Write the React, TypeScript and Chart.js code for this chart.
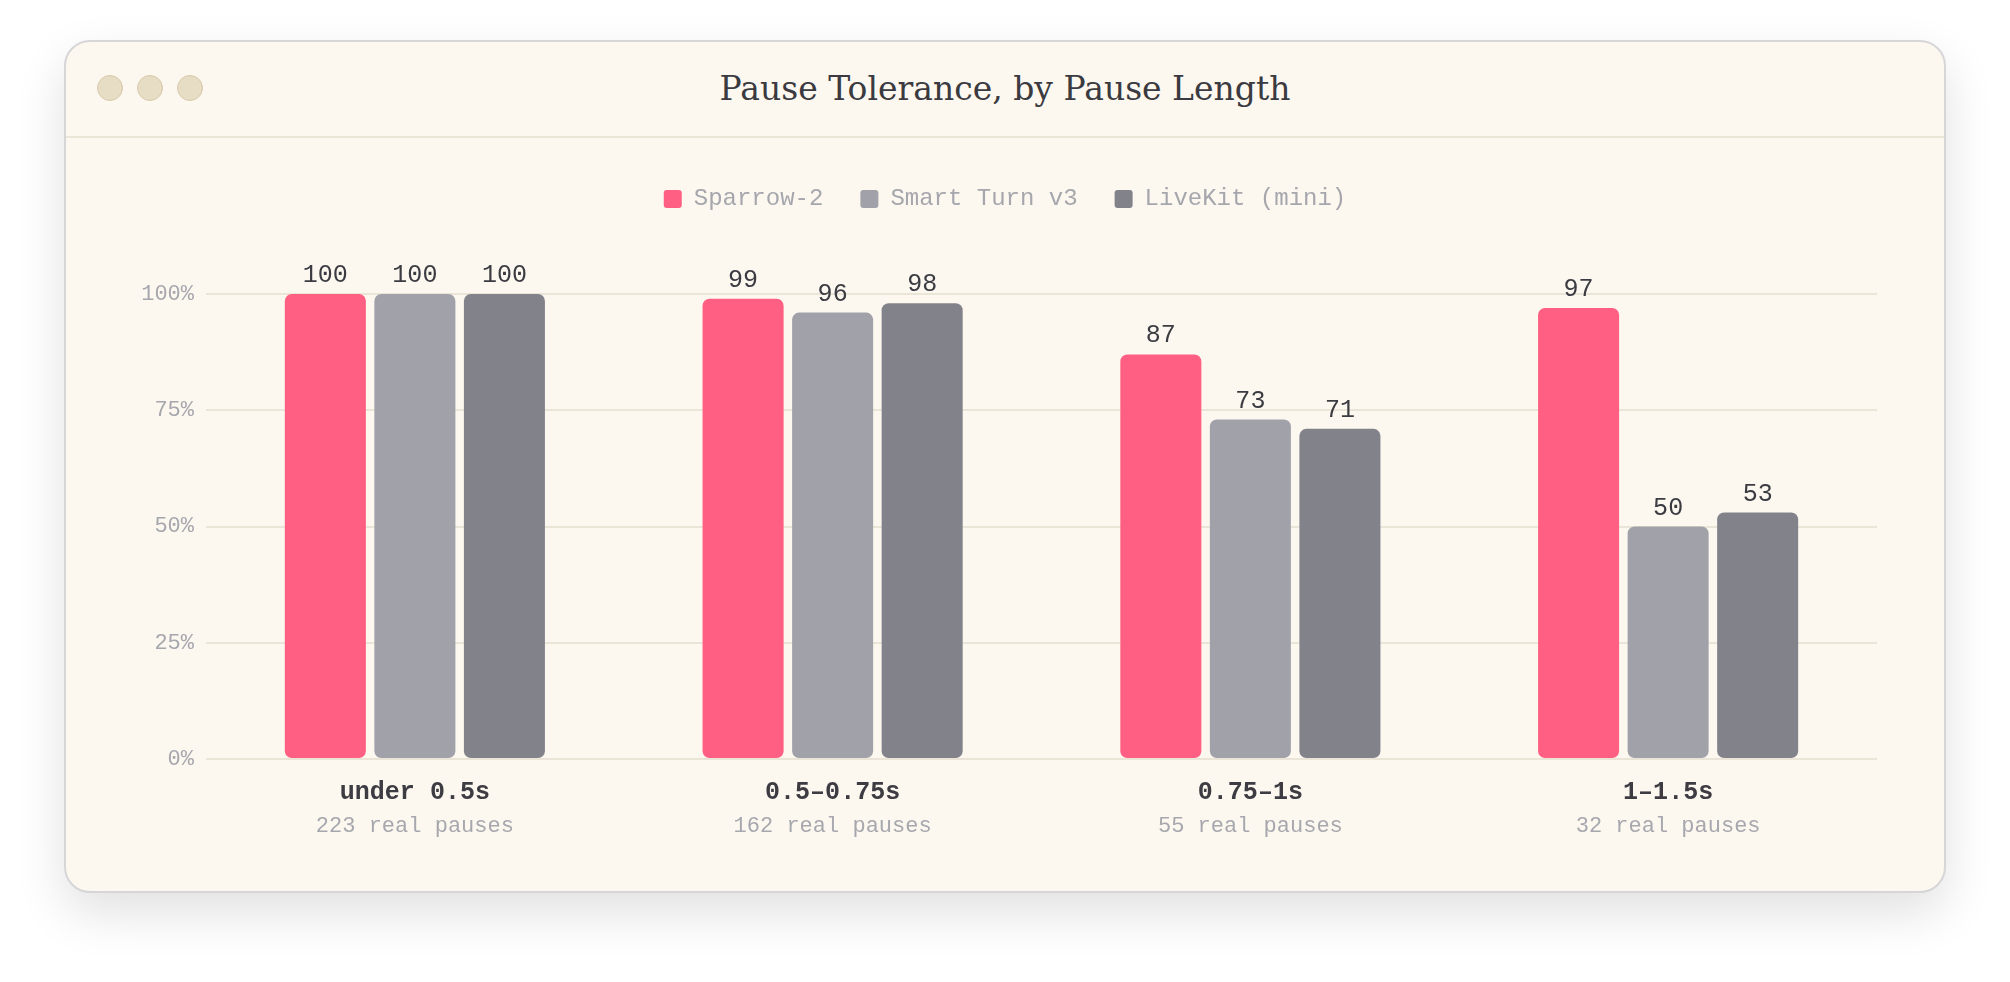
import { useEffect, useRef } from "react";
import { Chart, registerables } from "chart.js";

Chart.register(...registerables);

// data
const pauseBuckets = ["under 0.5s", "0.5–0.75s", "0.75–1s", "1–1.5s"];
const pauseCounts = ["223 real pauses", "162 real pauses", "55 real pauses", "32 real pauses"];
const sparrowValues = [100, 99, 87, 97];
const smartTurnValues = [100, 96, 73, 50];
const liveKitValues = [100, 98, 71, 53];
const yTicks = [0, 25, 50, 75, 100];

const MONO = "'Liberation Mono', 'DejaVu Sans Mono', monospace";

// draws the number above each bar
const barValueLabels = {
    id: "barValueLabels",
    afterDatasetsDraw(chart: Chart) {
        const ctx = chart.ctx;
        ctx.save();
        ctx.font = `25px ${MONO}`;
        ctx.fillStyle = "#3b3b42";
        ctx.textAlign = "center";
        ctx.textBaseline = "alphabetic";
        chart.data.datasets.forEach((ds, di) => {
            const meta = chart.getDatasetMeta(di);
            meta.data.forEach((bar: any, i) => {
                ctx.fillText(String(ds.data[i]), bar.x, bar.y - 12);
            });
        });
        ctx.restore();
    },
};

// two-line category labels under the axis, second line lighter
const categoryLabels = {
    id: "categoryLabels",
    afterDraw(chart: Chart) {
        const ctx = chart.ctx;
        const x = chart.scales.x;
        const bottom = chart.chartArea.bottom;
        ctx.save();
        ctx.textAlign = "center";
        ctx.textBaseline = "middle";
        pauseBuckets.forEach((label, i) => {
            const px = x.getPixelForValue(i);
            ctx.font = `bold 25px ${MONO}`;
            ctx.fillStyle = "#3c3c42";
            ctx.fillText(label, px, bottom + 34);
            ctx.font = `22px ${MONO}`;
            ctx.fillStyle = "#a7a7ae";
            ctx.fillText(pauseCounts[i], px, bottom + 67);
        });
        ctx.restore();
    },
};

// push the plot area down below the legend
const legendSpacer = {
    id: "legendSpacer",
    afterInit(chart: any) {
        const fit = chart.legend.fit;
        chart.legend.fit = function () {
            fit.call(this);
            this.height = 144;
        };
    },
};

function PauseChart() {
    const canvasRef = useRef<HTMLCanvasElement>(null);

    useEffect(() => {
        if (!canvasRef.current) return;
        const chart = new Chart(canvasRef.current, {
            type: "bar",
            data: {
                labels: pauseBuckets,
                datasets: [
                    { label: "Sparrow-2", data: sparrowValues, backgroundColor: "#ff5f82" },
                    { label: "Smart Turn v3", data: smartTurnValues, backgroundColor: "#a1a1a9" },
                    { label: "LiveKit (mini)", data: liveKitValues, backgroundColor: "#82828a" },
                ],
            },
            options: {
                responsive: true,
                maintainAspectRatio: false,
                animation: false,
                layout: { padding: { left: 67, right: 67, top: 12, bottom: 0 } },
                datasets: {
                    bar: {
                        barPercentage: 0.905,
                        categoryPercentage: 0.643,
                        borderRadius: 7,
                        borderSkipped: false,
                    },
                },
                plugins: {
                    legend: {
                        position: "top",
                        labels: {
                            boxWidth: 18,
                            boxHeight: 18,
                            useBorderRadius: true,
                            borderRadius: 3,
                            padding: 37,
                            color: "#a6a6ad",
                            font: { family: MONO, size: 24 },
                        },
                    },
                    tooltip: { enabled: false },
                },
                scales: {
                    x: {
                        grid: { display: false, drawTicks: false },
                        border: { display: false },
                        ticks: { display: false },
                        afterFit(scale: any) {
                            scale.height = 132;
                        },
                    },
                    y: {
                        min: 0,
                        max: 100,
                        afterBuildTicks(scale: any) {
                            scale.ticks = yTicks.map((v) => ({ value: v }));
                        },
                        afterFit(scale: any) {
                            scale.width = 73;
                        },
                        grid: { color: "#ebe5d8", lineWidth: 2, drawTicks: false },
                        border: { display: false },
                        ticks: {
                            padding: 12,
                            color: "#a6a6ad",
                            font: { family: MONO, size: 22 },
                            callback: (v) => `${v}%`,
                        },
                    },
                },
            },
            plugins: [barValueLabels, categoryLabels, legendSpacer],
        });
        return () => chart.destroy();
    }, []);

    return <canvas ref={canvasRef}></canvas>;
}

export default function App() {
    return (
        <div style={{ position: "fixed", inset: 0, background: "#ffffff" }}>
            <div
                style={{
                    position: "absolute",
                    left: 64,
                    top: 40,
                    width: 1882,
                    height: 853,
                    boxSizing: "border-box",
                    border: "2px solid #d6d6d8",
                    borderRadius: 26,
                    background: "#fcf8f0",
                    boxShadow: "0 20px 50px rgba(0,0,0,0.12)",
                    overflow: "hidden",
                }}
            >
                <div
                    style={{
                        position: "absolute",
                        left: 0,
                        top: 0,
                        right: 0,
                        height: 94,
                        borderBottom: "2px solid #ebe5d7",
                    }}
                >
                    {[44, 84, 124].map((cx) => (
                        <div
                            key={cx}
                            style={{
                                position: "absolute",
                                left: cx - 13,
                                top: 33,
                                width: 26,
                                height: 26,
                                boxSizing: "border-box",
                                borderRadius: "50%",
                                background: "#e7dcc4",
                                border: "1.5px solid #d8cba9",
                            }}
                        />
                    ))}
                    <div
                        style={{
                            position: "absolute",
                            left: 0,
                            right: 0,
                            top: 0,
                            height: 94,
                            lineHeight: "94px",
                            textAlign: "center",
                            fontFamily: "'DejaVu Serif', serif",
                            fontSize: 33,
                            color: "#3a3a40",
                        }}
                    >
                        Pause Tolerance, by Pause Length
                    </div>
                </div>
                <div style={{ position: "absolute", left: 0, top: 96, width: 1878, height: 753 }}>
                    <PauseChart />
                </div>
            </div>
        </div>
    );
}
